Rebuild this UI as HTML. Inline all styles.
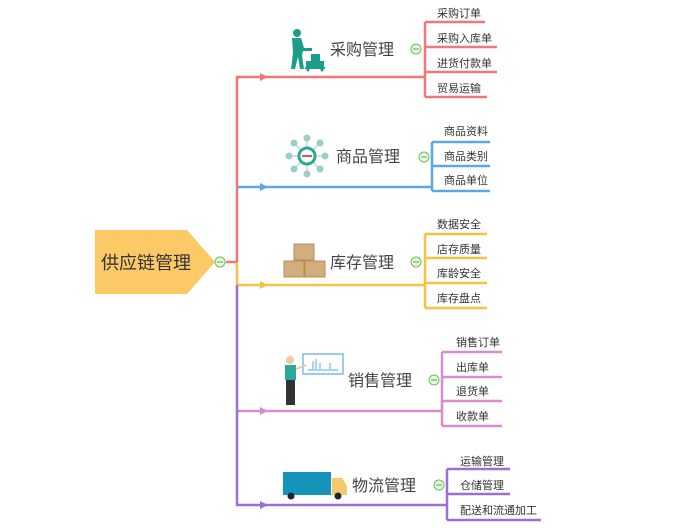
<!DOCTYPE html>
<html><head><meta charset="utf-8"><style>
body{margin:0;background:#fff}
svg text{font-family:"Liberation Sans","Noto Sans CJK SC",sans-serif}
</style></head><body>
<svg width="698" height="526" viewBox="0 0 698 526" xmlns="http://www.w3.org/2000/svg">
<g fill="none" stroke-width="2.5">
<path d="M226 262H237" stroke="#f07878"/>
<path d="M237 262V77H425M425 22V97M425 22H485M425 47H497M425 72H497M425 97H487" stroke="#f07878"/>
<path d="M237 187H432M432 142V191M432 142H490M432 166H490M432 191H490" stroke="#5aa9e6"/>
<path d="M237 262V285H425M425 234V308M425 234H487M425 258H487M425 283H487M425 308H487" stroke="#f5c242"/>
<path d="M237 411H442M442 352V426M442 352H502M442 377H502M442 401H502M442 426H502" stroke="#d98bd0"/>
<path d="M237 285V505H447M447 469V520M447 469H510M447 494H510M447 520H541" stroke="#9b6fd8"/>
</g>
<g>
<path d="M260 73L268 77L260 81Z" fill="#f07878"/>
<path d="M260 183L268 187L260 191Z" fill="#5aa9e6"/>
<path d="M260 281L268 285L260 289Z" fill="#f5c242"/>
<path d="M260 407L268 411L260 415Z" fill="#d98bd0"/>
<path d="M260 501L268 505L260 509Z" fill="#9b6fd8"/>
</g>
<path d="M95 230H187L215 262L187 294H95Z" fill="#fbc965"/>
<text x="146" y="269" font-size="18" text-anchor="middle" fill="#333">供应链管理</text>
<g fill="#eaf7e4" stroke="#6cbf5a" stroke-width="1">
<circle cx="220" cy="262" r="5"/><circle cx="416" cy="49" r="5"/><circle cx="424" cy="157" r="5"/><circle cx="416" cy="262" r="5"/><circle cx="434" cy="380" r="5"/><circle cx="439" cy="485" r="5"/>
</g>
<g stroke="#6cbf5a" stroke-width="1.2">
<path d="M217 262H223M413 49H419M421 157H427M413 262H419M431 380H437M436 485H442"/>
</g>
<g font-size="16" fill="#444">
<text x="330" y="55">采购管理</text>
<text x="336" y="162">商品管理</text>
<text x="330" y="268">库存管理</text>
<text x="348" y="386">销售管理</text>
<text x="352" y="491">物流管理</text>
</g>
<g font-size="11" fill="#333">
<text x="437" y="17">采购订单</text><text x="437" y="42">采购入库单</text><text x="437" y="67">进货付款单</text><text x="437" y="92">贸易运输</text>
<text x="444" y="135">商品资料</text><text x="444" y="160">商品类别</text><text x="444" y="184">商品单位</text>
<text x="437" y="228">数据安全</text><text x="437" y="253">店存质量</text><text x="437" y="277">库龄安全</text><text x="437" y="302">库存盘点</text>
<text x="456" y="346">销售订单</text><text x="456" y="371">出库单</text><text x="456" y="395">退货单</text><text x="456" y="420">收款单</text>
<text x="460" y="465">运输管理</text><text x="460" y="489">仓储管理</text><text x="460" y="514">配送和流通加工</text>
</g>
<g fill="#1a9e8a">
<circle cx="297" cy="33" r="4"/>
<path d="M292 38h9l3 10h8v3h-9l-1 4 2 14h-4l-2-12-3 12h-4l2-16z"/>
<rect x="311" y="54" width="9" height="7"/><rect x="306" y="61" width="18" height="6"/>
<rect x="305" y="67" width="20" height="2"/><circle cx="308" cy="70" r="1.5"/><circle cx="322" cy="70" r="1.5"/>
</g>
<g stroke="#9ccfc8" stroke-width="1" fill="#9ccfc8">
<path d="M307 156L289 156M307 156L325 156M307 156L307 138M307 156L307 174M307 156L294 143M307 156L320 143M307 156L294 169M307 156L320 169"/>
<circle cx="289" cy="156" r="3"/><circle cx="325" cy="156" r="3"/><circle cx="307" cy="138" r="3"/><circle cx="307" cy="174" r="3"/>
<circle cx="294" cy="143" r="3"/><circle cx="320" cy="143" r="3"/><circle cx="294" cy="169" r="3"/><circle cx="320" cy="169" r="3"/>
</g>
<circle cx="307" cy="156" r="8" fill="#fff" stroke="#2aa89a" stroke-width="3"/>
<path d="M302 156h10" stroke="#e05555" stroke-width="2"/>
<g fill="#d4ad7d" stroke="#b88c5a" stroke-width="1">
<rect x="294" y="244" width="20" height="16"/><rect x="284" y="261" width="20" height="16"/><rect x="305" y="261" width="20" height="16"/>
</g>
<rect x="303" y="354" width="40" height="20" fill="#fff" stroke="#5aa9e6" stroke-width="1.2"/>
<path d="M308 370h30M313 369v-8M316 369v-10M320 369v-6M330 369v-6" stroke="#5aa9e6" stroke-width="1"/>
<circle cx="290" cy="360" r="4" fill="#f3c89b"/>
<rect x="285" y="365" width="11" height="15" fill="#2aa89a"/>
<path d="M296 369l10-4" stroke="#f3c89b" stroke-width="2"/>
<rect x="286" y="380" width="9" height="25" fill="#333"/>
<rect x="283" y="472" width="48" height="23" fill="#1593b8"/>
<path d="M332 478h10l5 8v9h-15z" fill="#f5c96a"/>
<circle cx="291" cy="496" r="3.5" fill="#223"/><circle cx="338" cy="496" r="3.5" fill="#223"/>
</svg>
</body></html>
